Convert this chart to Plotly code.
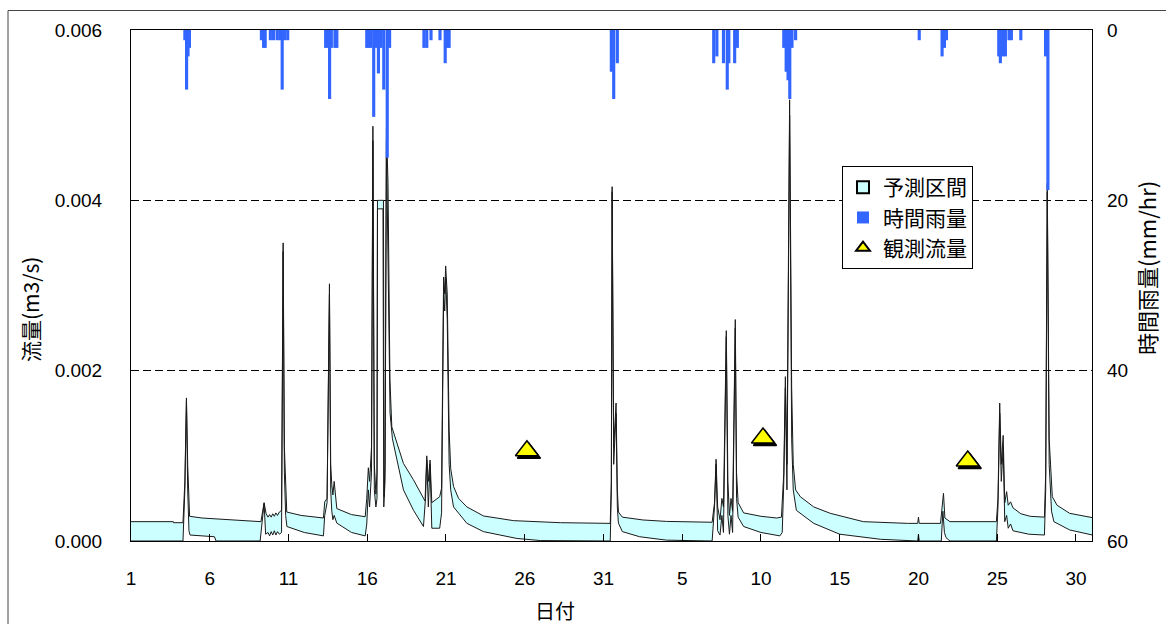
import plotly.graph_objects as go

# ---------------- data ----------------
tick_days = [1, 6, 11, 16, 21, 26, 31, 36, 41, 46, 51, 56, 61]
tick_labels = ['1', '6', '11', '16', '21', '26', '31', '5', '10', '15', '20', '25', '30']

# prediction interval, upper bound (day index, m3/s)
upper_day = [1.0, 3.69, 3.7, 4.3, 4.42, 4.52, 4.6, 4.64, 4.72, 5.5, 6.65, 8.5, 9.25, 9.45, 9.58,
             9.7, 9.8, 9.9, 10.0, 10.1, 10.2, 10.3, 10.42, 10.56, 10.66, 10.74, 10.83, 10.89, 11.8,
             13.22, 13.3, 13.45, 13.6, 13.68, 13.75, 13.82, 13.9, 13.98, 14.07, 15.0, 15.87, 15.97,
             16.07, 16.15, 16.27, 16.36, 16.45, 16.55, 16.62, 16.65, 17.03, 17.07, 17.13, 17.22,
             17.32, 17.44, 17.56, 18.3, 18.93, 19.46, 19.67, 19.78, 19.88, 19.99, 20.1, 20.6, 20.72,
             20.85, 20.92, 20.98, 21.08, 21.2, 21.3, 21.48, 21.8, 22.33, 23.38, 25.29, 28.26, 31.43,
             31.5, 31.55, 31.65, 31.8, 31.88, 31.95, 32.2, 33.5, 35.0, 37.9, 38.05, 38.15, 38.25,
             38.4, 38.52, 38.62, 38.8, 38.9, 39.0, 39.1, 39.2, 39.37, 39.45, 39.55, 39.9, 41.0, 42.0,
             42.3, 42.45, 42.55, 42.65, 42.82, 42.95, 43.05, 43.2, 43.5, 44.35, 45.4, 47.5, 50.3,
             50.95, 51.0, 51.05, 52.4, 52.5, 52.59, 52.68, 53.0, 55.95, 56.05, 56.16, 56.26, 56.38,
             56.48, 56.6, 56.7, 56.85, 57.0, 57.5, 58.1, 59.0, 59.08, 59.18, 59.3, 59.5, 59.8, 60.6,
             62.05]
upper_flow = [0.000227, 0.000227, 0.000215, 0.000215, 0.0007, 0.00168, 0.0009, 0.0006, 0.00029,
              0.00027, 0.000255, 0.000235, 0.000227, 0.00045, 0.00032,
              0.00028, 0.00031, 0.00028, 0.00032, 0.00029, 0.00033, 0.0003, 0.00034, 0.00036,
              0.0035, 0.0011, 0.00062, 0.00034, 0.0003,
              0.00027, 0.00046, 0.0005, 0.00302, 0.0009, 0.00066, 0.00054, 0.0007, 0.0005, 0.00038,
              0.00031, 0.000285, 0.0005,
              0.00086, 0.0007, 0.0011, 0.00487, 0.0009, 0.00055, 0.0008, 0.004, 0.004, 0.00052,
              0.0009, 0.00485,
              0.0042, 0.0019, 0.00134, 0.00091, 0.00072, 0.00054, 0.00047, 0.001, 0.0007, 0.00095,
              0.00045, 0.00052, 0.00062,
              0.0031, 0.0029, 0.00323, 0.0029, 0.0013, 0.00085, 0.00064, 0.0005, 0.0004, 0.000294,
              0.000239, 0.000215, 0.000207,
              0.0007, 0.00416, 0.0011, 0.00162, 0.0006, 0.00034, 0.00028, 0.000247, 0.00023, 0.00022,
              0.00045, 0.00096, 0.0004,
              0.00025, 0.0005, 0.0004, 0.00247, 0.0007, 0.0003, 0.0005, 0.00035, 0.0026, 0.0008,
              0.00045, 0.00033, 0.00029, 0.00027,
              0.00028, 0.0008, 0.00193, 0.0009, 0.00518, 0.0018, 0.0009, 0.0006, 0.00052, 0.0004,
              0.000325, 0.000227, 0.000207,
              0.000207, 0.00028, 0.000207, 0.000207, 0.0004, 0.00056, 0.00027, 0.000227, 0.000227,
              0.0005, 0.00162, 0.0009, 0.00124,
              0.00045, 0.00058, 0.00042, 0.00046, 0.00039, 0.00032, 0.00029, 0.00028, 0.0008, 0.0042,
              0.0012, 0.00052, 0.00042, 0.000325,
              0.000274]

# prediction interval, lower bound (day index, m3/s)
lower_day = [1.0, 4.3, 4.42, 4.52, 4.6, 4.68, 4.75, 6.3, 6.4, 9.2, 9.32, 9.45, 9.55, 9.7, 9.8, 9.9,
             10.0, 10.1, 10.2, 10.3, 10.42, 10.56, 10.66, 10.74, 10.82, 10.9, 12.0, 13.22, 13.3,
             13.45, 13.6, 13.68, 13.75, 13.82, 13.9, 14.07, 15.0, 15.87, 15.97, 16.07, 16.15, 16.27,
             16.36, 16.45, 16.55, 16.62, 16.65, 17.0, 17.05, 17.13, 17.22, 17.32, 17.45, 17.6, 17.85,
             18.3, 18.94, 19.57, 19.7, 19.78, 19.88, 19.99, 20.1, 20.6, 20.72, 20.85, 20.92, 20.98,
             21.08, 21.2, 21.3, 21.48, 22.33, 23.38, 25.5, 27.0, 31.43, 31.5, 31.55, 31.65, 31.8,
             31.88, 31.95, 32.2, 33.3, 35.0, 37.9, 38.05, 38.15, 38.25, 38.4, 38.52, 38.62, 38.8,
             38.9, 39.0, 39.1, 39.2, 39.37, 39.45, 39.55, 39.9, 41.0, 42.2, 42.35, 42.45, 42.55,
             42.65, 42.82, 42.95, 43.05, 43.25, 44.35, 46.0, 48.6, 50.95, 51.0, 51.05, 52.45, 52.55,
             52.65, 52.75, 53.0, 55.95, 56.05, 56.16, 56.26, 56.38, 56.48, 56.6, 56.7, 56.85, 57.0,
             58.0, 59.0, 59.08, 59.18, 59.3, 59.45, 59.6, 60.6, 62.05]
lower_flow = [0.0, 0.0, 0.0006, 0.00165, 0.0006, 0.00012, 0.00007, 0.00005, 0.0, 0.0, 0.0002,
              0.00044, 0.00008, 0.0001, 0.00006, 0.00011,
              0.00007, 0.00012, 0.00007, 0.00011, 0.00008, 0.0001, 0.0034, 0.0008, 0.0003, 0.00017,
              0.0001, 0.00006, 0.0003,
              0.00045, 0.0029, 0.0006, 0.00035, 0.00025, 0.0003, 0.00021, 0.0001, 0.00006, 0.0002,
              0.0006, 0.0004, 0.0008,
              0.0047, 0.0006, 0.0004, 0.0005, 0.0039, 0.0039, 0.0004, 0.0007, 0.0047, 0.0035, 0.0015,
              0.0012, 0.00099,
              0.0006, 0.00036, 0.00017, 0.0005, 0.00095, 0.0004, 0.0009, 0.00015, 0.00015, 0.00033,
              0.0029, 0.0027, 0.0031,
              0.0026, 0.0009, 0.0006, 0.0004, 0.000207, 0.00011, 0.00003, 0.000005, 0.0, 0.0006,
              0.0041, 0.0009, 0.0015,
              0.0004, 0.00021, 0.00011, 0.00005, 0.00001, 0.0, 0.0004, 0.0009, 0.00012, 0.00007,
              0.0003, 0.0001, 0.0024,
              0.0003, 0.00008, 0.0003, 0.0001, 0.0025, 0.0005, 0.00028, 0.00017, 0.0001, 0.00006,
              0.0001, 0.0007, 0.0018,
              0.0006, 0.005, 0.0012, 0.0006, 0.00036, 0.000207, 0.00008, 0.00002, 0.0, 0.00008, 0.0,
              0.0, 0.00035,
              0.0001, 0.00004, 0.0, 0.0, 0.0004, 0.0015, 0.0007, 0.0011, 0.000227, 0.0003, 0.00015,
              0.0002, 0.00012,
              0.00008, 0.00007, 0.0006, 0.0041, 0.0009, 0.00035, 0.000227, 0.00013, 0.00007]

# hourly rainfall (day index, mm/hr)
rain_day = [4.42, 4.53, 4.62, 4.71,
            9.28, 9.42, 9.52, 9.85, 10.05,
            10.28, 10.45, 10.60, 10.75, 10.95,
            13.36, 13.50, 13.61, 13.72, 13.95, 14.07,
            15.97, 16.10, 16.22, 16.41, 16.55, 16.71, 16.88, 17.05, 17.27, 17.42,
            19.60, 19.78, 20.05,
            20.62, 20.95, 21.10, 21.20,
            31.50, 31.65, 31.88,
            38.00, 38.20,
            38.62, 38.86, 38.96,
            39.33, 39.50,
            42.45, 42.60, 42.72, 42.83, 42.97, 43.20,
            51.05,
            52.50, 52.65, 52.78,
            56.10, 56.20, 56.35, 56.52, 56.75, 56.90,
            57.50,
            59.07, 59.22]
rain_mm = [1.2, 7.0, 3.1, 2.1,
           1.2, 2.1, 2.1, 1.2, 1.2,
           1.2, 1.2, 7.0, 1.2, 1.2,
           2.1, 2.1, 8.1, 2.1, 2.1, 2.1,
           2.1, 2.1, 2.1, 10.2, 2.1, 5.1, 2.1, 7.0, 15.0, 2.1,
           2.1, 2.1, 1.2,
           1.2, 3.9, 2.1, 2.1,
           4.9, 8.1, 3.9,
           3.9, 3.1,
           3.9, 7.0, 3.9,
           3.9, 2.1,
           2.1, 4.9, 5.9, 8.1, 2.1, 1.2,
           1.2,
           3.1, 2.1, 1.2,
           3.1, 3.9, 3.1, 3.1, 1.2, 1.2,
           1.2,
           3.1, 18.8]

# observed flow
obs_day = [26.14, 41.13, 54.13]
obs_flow = [0.00106, 0.00121, 0.00094]

# ---------------- layout constants ----------------
W, H = 1166, 624
ML, MR, MT, MB = 131, 74, 30, 83
PW, PH = W - ML - MR, H - MT - MB
X_RANGE = [1.0, 62.02]
Y_RANGE = [0.0, 0.006]
R_RANGE = [60, 0]
SHADOW_DX, SHADOW_DY = 2.0, 2.5  # pixels

dx = SHADOW_DX * (X_RANGE[1] - X_RANGE[0]) / PW
dy = SHADOW_DY * (Y_RANGE[1] - Y_RANGE[0]) / PH

JP = "Noto Sans CJK JP"
NUM = "Liberation Sans, Arial, sans-serif"
BLUE = "#3366FF"
CYAN = "#CCFFFF"

fig = go.Figure()

# prediction interval band (upper line, then lower line back)
fig.add_trace(go.Scatter(
    x=upper_day + lower_day[::-1],
    y=upper_flow + lower_flow[::-1],
    mode="lines", fill="toself", fillcolor=CYAN,
    line=dict(color="#1a1a1a", width=1),
    name="予測区間", showlegend=False, xaxis="x", yaxis="y", hoverinfo="skip",
))

# legend swatch for the band
fig.add_trace(go.Scatter(
    x=[None], y=[None], mode="markers",
    marker=dict(symbol="square", size=9, color=CYAN, line=dict(color="black", width=1)),
    name="予測区間", xaxis="x", yaxis="y",
))

# hourly rainfall, hanging from the top on the reversed right axis
fig.add_trace(go.Bar(
    x=rain_day, y=rain_mm, width=0.2,
    marker=dict(color=BLUE, line=dict(width=0)),
    name="時間雨量", xaxis="x", yaxis="y2",
))

# shadow of observed markers (same data, axes shifted a couple of pixels)
fig.add_trace(go.Scatter(
    x=obs_day, y=obs_flow, mode="markers",
    marker=dict(symbol="triangle-up", size=20, color="black", line=dict(color="black", width=1.5)),
    showlegend=False, xaxis="x2", yaxis="y3", hoverinfo="skip",
))

# observed flow
fig.add_trace(go.Scatter(
    x=obs_day, y=obs_flow, mode="markers",
    marker=dict(symbol="triangle-up", size=20, color="#FFFF00", line=dict(color="black", width=1.5)),
    name="観測流量", xaxis="x3", yaxis="y4",
))

hidden = dict(visible=False, showgrid=False, zeroline=False, fixedrange=True)

fig.update_layout(
    width=W, height=H,
    margin=dict(l=ML, r=MR, t=MT, b=MB, pad=0),
    paper_bgcolor="white", plot_bgcolor="white",
    font=dict(family=NUM, size=19, color="black"),
    barmode="overlay",
    showlegend=True,
    legend=dict(
        x=(842 - ML) / PW, y=(MT + PH - 166) / PH, xanchor="left", yanchor="top",
        bgcolor="white", bordercolor="black", borderwidth=1,
        font=dict(family=JP, size=21, color="black"),
        itemsizing="constant", tracegroupgap=0,
    ),
    xaxis=dict(
        range=X_RANGE, tickmode="array", tickvals=tick_days, ticktext=tick_labels,
        ticks="inside", ticklen=7, tickcolor="black", tickwidth=1,
        showline=True, linecolor="black", linewidth=1, mirror=True,
        showgrid=False, zeroline=False, ticklabelstandoff=20,
        tickfont=dict(family=NUM, size=19),
    ),
    yaxis=dict(
        range=Y_RANGE, tickmode="array", tickvals=[0, 0.002, 0.004, 0.006],
        ticktext=["0.000", "0.002", "0.004", "0.006"],
        ticks="", showline=True, linecolor="black", linewidth=1, mirror=True,
        showgrid=True, gridcolor="black", gridwidth=1, griddash="8px,4px",
        zeroline=False, ticklabelstandoff=24,
        tickfont=dict(family=NUM, size=19),
    ),
    yaxis2=dict(
        range=R_RANGE, overlaying="y", side="right", tickmode="array",
        tickvals=[0, 20, 40, 60], ticktext=["0", "20", "40", "60"],
        ticks="", showline=False, showgrid=False, zeroline=False,
        ticklabelstandoff=14, tickfont=dict(family=NUM, size=19),
    ),
    xaxis2=dict(overlaying="x", range=[X_RANGE[0] - dx, X_RANGE[1] - dx], **hidden),
    yaxis3=dict(overlaying="y", range=[Y_RANGE[0] + dy, Y_RANGE[1] + dy], **hidden),
    xaxis3=dict(overlaying="x", range=X_RANGE, **hidden),
    yaxis4=dict(overlaying="y", range=Y_RANGE, **hidden),
    annotations=[
        dict(text="流量(m3/s)", xref="paper", yref="paper",
             x=(30 - ML) / PW, y=(MT + PH - 310) / PH, textangle=-90, showarrow=False,
             xanchor="center", yanchor="middle", font=dict(family=JP, size=21)),
        dict(text="時間雨量(mm/hr)", xref="paper", yref="paper",
             x=(1146 - ML) / PW, y=(MT + PH - 268) / PH, textangle=-90, showarrow=False,
             xanchor="center", yanchor="middle", font=dict(family=JP, size=22)),
        dict(text="日付", xref="paper", yref="paper",
             x=(555 - ML) / PW, y=(MT + PH - 610) / PH, showarrow=False,
             xanchor="center", yanchor="middle", font=dict(family=JP, size=20)),
    ],
    shapes=[
        dict(type="rect", xref="paper", yref="paper",
             x0=(8 - ML) / PW, x1=(1175 - ML) / PW,
             y0=(MT + PH - 640) / PH, y1=(MT + PH - 10.5) / PH,
             line=dict(color="#444444", width=1), fillcolor="rgba(0,0,0,0)", layer="below"),
    ],
)

fig.write_html("out.html", config={"displayModeBar": False},
               post_script="document.body.style.margin='0';document.body.style.overflow='hidden';")
